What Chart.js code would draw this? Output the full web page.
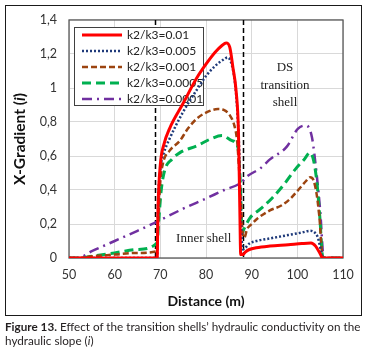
<!DOCTYPE html>
<html lang="en">
  <head>
    <meta charset="UTF-8" />
    <title>X-Gradient vs Distance</title>
    <script src="https://cdn.jsdelivr.net/npm/chart.js"></script>
    <style>
      body { margin: 0; background: #fff; width: 370px; height: 352px; position: relative; overflow: hidden; }
      #wrap { position: absolute; left: 0; top: 0; width: 370px; height: 316px; }
      #frame { position: absolute; left: 5px; top: 5px; width: 355px; height: 309px; border: 1.5px solid #1a1a1a; pointer-events: none; }
      #caption { position: absolute; left: 5px; top: 319px; width: 366px; font-family: Lato, sans-serif; font-size: 11.7px; line-height: 14px; color: #231f20; }
    </style>
  </head>
  <body>
    <div id="wrap"><canvas id="chart" width="370" height="316"></canvas></div>
    <div id="frame"></div>
    <div id="caption"><b>Figure 13.</b> Effect of the transition shells’ hydraulic conductivity on the hydraulic slope (<i>i</i>)</div>

    <script>
      // series labels
      const seriesLabels = ["k2/k3=0.01", "k2/k3=0.005", "k2/k3=0.001", "k2/k3=0.0005", "k2/k3=0.0001"];

      // k2/k3 = 0.01
      const xRed = [50, 69.3, 69.5, 70, 70.8, 72, 75, 78, 80, 82, 83.5, 84.4, 85.2, 85.9, 86.6, 87.1, 87.4, 87.6, 88.1, 88.6, 89.5, 91, 94, 98, 101, 103, 104, 105, 105.5, 110];
      const yRed = [0, 0, 0.3, 0.55, 0.67, 0.76, 0.91, 1.06, 1.14, 1.21, 1.25, 1.265, 1.24, 1.12, 0.98, 0.75, 0.3, 0.02, 0.02, 0.035, 0.05, 0.06, 0.07, 0.078, 0.085, 0.088, 0.07, 0.025, 0, 0];

      // k2/k3 = 0.005
      const xBlue = [50, 69.3, 69.5, 70, 70.8, 72, 75, 78, 80, 82, 84, 84.7, 85.5, 86.3, 86.9, 87.3, 87.6, 88.1, 88.6, 89.5, 91, 94, 98, 101, 102.8, 103.8, 104.5, 105.2, 105.6, 110];
      const yBlue = [0, 0, 0.3, 0.52, 0.62, 0.7, 0.86, 0.99, 1.07, 1.13, 1.17, 1.18, 1.15, 1.04, 0.85, 0.6, 0.25, 0.05, 0.06, 0.085, 0.1, 0.115, 0.135, 0.15, 0.16, 0.15, 0.12, 0.04, 0, 0];

      // k2/k3 = 0.001
      const xBrown = [50, 52, 55, 60, 65, 69.2, 69.5, 70, 70.6, 72, 74.3, 76, 78, 80, 82.6, 84, 85.2, 86.2, 86.8, 87.3, 87.7, 88.1, 88.4, 89, 90, 91.4, 94, 96.6, 98.5, 100.2, 101.8, 102.8, 103.5, 104.2, 104.8, 105.6, 110];
      const yBrown = [0, 0, 0.01, 0.02, 0.03, 0.04, 0.2, 0.45, 0.56, 0.63, 0.69, 0.76, 0.82, 0.855, 0.876, 0.87, 0.84, 0.78, 0.69, 0.5, 0.3, 0.13, 0.12, 0.17, 0.2, 0.235, 0.28, 0.31, 0.35, 0.4, 0.45, 0.475, 0.46, 0.38, 0.25, 0, 0];

      // k2/k3 = 0.0005
      const xGreen = [50, 52, 55, 60, 65, 69.3, 69.6, 70.2, 71, 72.5, 74.3, 78, 81, 83.5, 85.7, 87, 87.5, 87.9, 88.3, 89.6, 92, 94.4, 97, 99.5, 101.5, 102.8, 103.6, 104.3, 104.9, 105.6, 110];
      const yGreen = [0, 0, 0.01, 0.03, 0.05, 0.09, 0.2, 0.4, 0.52, 0.58, 0.62, 0.66, 0.7, 0.72, 0.69, 0.65, 0.45, 0.15, 0.17, 0.235, 0.29, 0.35, 0.43, 0.52, 0.58, 0.62, 0.57, 0.44, 0.25, 0, 0];

      // k2/k3 = 0.0001
      const xPurple = [50, 52, 55, 60, 65, 69, 75, 80, 84, 87.5, 89, 92, 94, 97.7, 100.1, 101.9, 103.2, 104.2, 105, 105.8, 110];
      const yPurple = [0, 0, 0.04, 0.1, 0.16, 0.21, 0.29, 0.35, 0.4, 0.44, 0.48, 0.53, 0.58, 0.655, 0.76, 0.78, 0.71, 0.5, 0.28, 0, 0];

      // shell boundaries (dashed lines) and axis ticks
      const boundaries = [68.8, 88];
      const xTicks = [50, 60, 70, 80, 90, 100, 110];
      const yTickLabels = ["0", "0,2", "0,4", "0,6", "0,8", "1", "1,2", "1,4"];

      const pts = (xs, ys) => xs.map((x, i) => ({ x: x, y: ys[i] }));

      const styles = [
        { color: "#ff0000", width: 3, dash: [] },
        { color: "#1f3a7a", width: 2.5, dash: [2, 2] },
        { color: "#9c4410", width: 2.5, dash: [6, 3] },
        { color: "#00b050", width: 3, dash: [9, 5] },
        { color: "#7030a0", width: 2.5, dash: [10, 5, 2, 5] },
      ];
      const seriesData = [pts(xRed, yRed), pts(xBlue, yBlue), pts(xBrown, yBrown), pts(xGreen, yGreen), pts(xPurple, yPurple)];

      // lower order is drawn on top -> red on top
      const datasets = seriesData.map((d, i) => ({
        label: seriesLabels[i],
        data: d,
        borderColor: styles[i].color,
        borderWidth: styles[i].width,
        borderDash: styles[i].dash,
        pointRadius: 0,
        fill: false,
        cubicInterpolationMode: "monotone",
        order: i,
      }));

      const decor = {
        id: "decor",
        beforeDatasetsDraw(chart) {
          const { ctx, chartArea: a, scales } = chart;
          ctx.save();
          // plot border
          ctx.strokeStyle = "#595959";
          ctx.lineWidth = 1.3;
          ctx.strokeRect(a.left, a.top, a.right - a.left, a.bottom - a.top);

          // dashed boundaries
          ctx.strokeStyle = "#000";
          ctx.lineWidth = 1.5;
          ctx.setLineDash([5, 3]);
          boundaries.forEach((b) => {
            const px = Math.round(scales.x.getPixelForValue(b)) + 0.5;
            ctx.beginPath();
            ctx.moveTo(px, a.top);
            ctx.lineTo(px, a.bottom);
            ctx.stroke();
          });
          ctx.setLineDash([]);

          // annotations
          ctx.fillStyle = "#222";
          ctx.font = "13px 'Liberation Serif', serif";
          ctx.textAlign = "center";
          ctx.textBaseline = "middle";
          ctx.fillText("Inner shell", scales.x.getPixelForValue(79.5), scales.y.getPixelForValue(0.115));
          const dx = scales.x.getPixelForValue(97.3);
          ctx.fillText("DS", dx, scales.y.getPixelForValue(1.12));
          ctx.fillText("transition", dx, scales.y.getPixelForValue(1.015));
          ctx.fillText("shell", dx, scales.y.getPixelForValue(0.915));

          // legend box
          const lx = 74, ly = 27, lw = 129, lh = 78;
          ctx.fillStyle = "#fff";
          ctx.fillRect(lx, ly, lw, lh);
          ctx.strokeStyle = "#404040";
          ctx.lineWidth = 1;
          ctx.strokeRect(lx + 0.5, ly + 0.5, lw, lh);
          ctx.textAlign = "left";
          ctx.font = "12px Lato, sans-serif";
          chart.data.datasets.forEach((ds, i) => {
            const yy = ly + 8 + i * 16;
            ctx.strokeStyle = ds.borderColor;
            ctx.lineWidth = ds.borderWidth;
            ctx.setLineDash(ds.borderDash);
            ctx.beginPath();
            ctx.moveTo(lx + 8, yy);
            ctx.lineTo(lx + 48, yy);
            ctx.stroke();
            ctx.setLineDash([]);
            ctx.fillStyle = "#222";
            ctx.fillText(ds.label, lx + 53, yy + 0.5);
          });
          ctx.restore();
        },
        afterDraw(chart) {
          const { ctx, chartArea: a } = chart;
          ctx.save();
          ctx.fillStyle = "#111";
          ctx.textBaseline = "middle";
          // x title
          ctx.font = "bold 14px Lato, sans-serif";
          ctx.textAlign = "center";
          ctx.fillText("Distance (m)", (a.left + a.right) / 2, 301);
          // y title with italic i
          ctx.translate(20, (a.top + a.bottom) / 2);
          ctx.rotate(-Math.PI / 2);
          const parts = [
            ["X-Gradient (", "bold 15.5px Lato, sans-serif"],
            ["i", "italic bold 15.5px Lato, sans-serif"],
            [")", "bold 15.5px Lato, sans-serif"],
          ];
          let total = 0;
          parts.forEach((p) => { ctx.font = p[1]; total += ctx.measureText(p[0]).width; });
          let x0 = -total / 2;
          ctx.textAlign = "left";
          parts.forEach((p) => {
            ctx.font = p[1];
            ctx.fillText(p[0], x0, 0);
            x0 += ctx.measureText(p[0]).width;
          });
          ctx.restore();
        },
      };

      new Chart(document.getElementById("chart"), {
        type: "line",
        data: { datasets: datasets },
        options: {
          responsive: false,
          animation: false,
          devicePixelRatio: 1,
          layout: { padding: { top: 20, right: 27, left: 0, bottom: 0 } },
          plugins: { legend: { display: false }, tooltip: { enabled: false } },
          scales: {
            x: {
              type: "linear",
              min: 50,
              max: 110,
              afterBuildTicks: (s) => { s.ticks = xTicks.map((v) => ({ value: v })); },
              afterFit: (s) => { s.height = 58; },
              grid: { color: "#d9d9d9", drawTicks: false },
              border: { display: false },
              ticks: { padding: 9, color: "#333", font: { family: "Lato", size: 12.5 } },
            },
            y: {
              min: 0,
              max: 1.4,
              afterBuildTicks: (s) => { s.ticks = yTickLabels.map((t, i) => ({ value: i * 0.2 })); },
              afterFit: (s) => { s.width = 69; },
              grid: { color: "#d9d9d9", drawTicks: false },
              border: { display: false },
              ticks: {
                padding: 12,
                color: "#333",
                font: { family: "Lato", size: 12.5 },
                callback: (v, i) => yTickLabels[i],
              },
            },
          },
        },
        plugins: [decor],
      });
    </script>
  </body>
</html>
